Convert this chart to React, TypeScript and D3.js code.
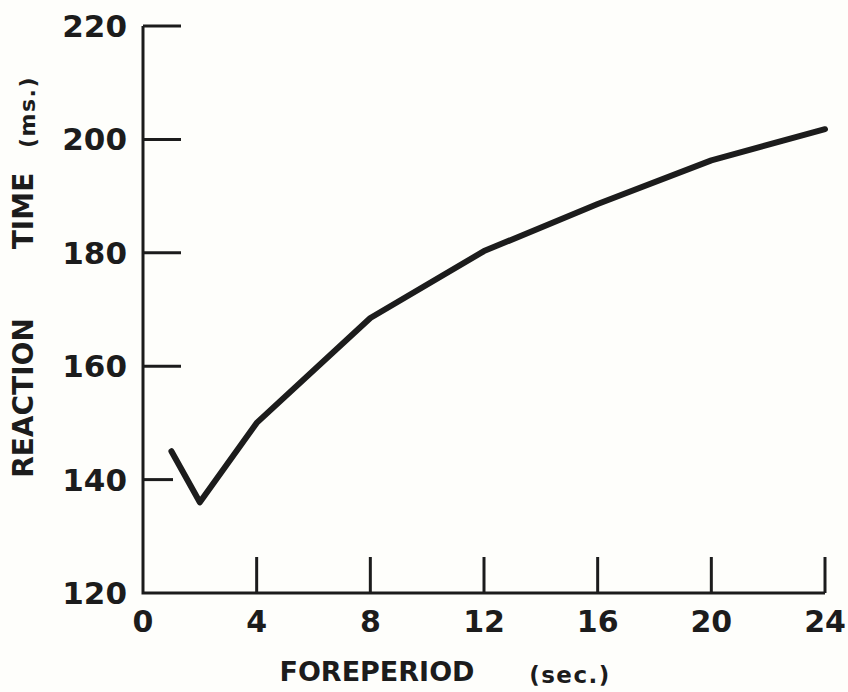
import React from "react";
import * as d3 from "d3";

const foreperiod = [1, 2, 4, 8, 12, 16, 20, 24];
const reactionTime = [145, 136, 150, 168.5, 180.3, 188.6, 196.3, 201.8];
const xTicks = [0, 4, 8, 12, 16, 20, 24];
const yTicks = [120, 140, 160, 180, 200, 220];

const W = 848;
const H = 692;
const INK = "#1c1c1c";
const FONT = "'DejaVu Sans', sans-serif";

export default function App() {
  const x = d3.scaleLinear().domain([0, 24]).range([143, 825]);
  const y = d3.scaleLinear().domain([120, 220]).range([593, 26]);
  const line = d3
    .line<number>()
    .x((_, i) => x(foreperiod[i]))
    .y((d) => y(d));
  const tickLen = (v: number) => (v === 140 ? 30 : 38);

  return (
    <svg
      width={W}
      height={H}
      style={{ position: "absolute", left: 0, top: 0, background: "#fefefb" }}
    >
      {/* axes */}
      <path
        d={`M${x(0)},${y(220)}V${y(120)}H${x(24)}`}
        fill="none"
        stroke={INK}
        strokeWidth={3}
      />
      {yTicks.map((v) => (
        <g key={"y" + v}>
          {v !== 120 && (
            <line
              x1={x(0)}
              x2={x(0) + tickLen(v)}
              y1={y(v)}
              y2={y(v)}
              stroke={INK}
              strokeWidth={3}
            />
          )}
          <text
            x={127}
            y={y(v) + 11}
            textAnchor="end"
            fontFamily={FONT}
            fontWeight="bold"
            fontSize={31}
            fill={INK}
          >
            {v}
          </text>
        </g>
      ))}
      {xTicks.map((v) => (
        <g key={"x" + v}>
          {v !== 0 && (
            <line
              x1={x(v)}
              x2={x(v)}
              y1={y(120)}
              y2={y(120) - 36}
              stroke={INK}
              strokeWidth={3}
            />
          )}
          <text
            x={x(v)}
            y={632}
            textAnchor="middle"
            fontFamily={FONT}
            fontWeight="bold"
            fontSize={30}
            fill={INK}
          >
            {v}
          </text>
        </g>
      ))}
      {/* data line */}
      <path
        d={line(reactionTime) || ""}
        fill="none"
        stroke={INK}
        strokeWidth={6}
        strokeLinecap="round"
        strokeLinejoin="round"
      />
      {/* x title */}
      <text
        x={377}
        y={681}
        textAnchor="middle"
        fontFamily={FONT}
        fontWeight="bold"
        fontSize={27}
        fill={INK}
      >
        FOREPERIOD
      </text>
      <text
        x={570}
        y={683}
        textAnchor="middle"
        fontFamily={FONT}
        fontWeight="bold"
        fontSize={23}
        letterSpacing={1.5}
        fill={INK}
      >
        (sec.)
      </text>
      {/* y title */}
      <g transform="translate(33,0) rotate(-90)">
        <text
          x={-398}
          y={0}
          textAnchor="middle"
          fontFamily={FONT}
          fontWeight="bold"
          fontSize={28}
          fill={INK}
        >
          REACTION
        </text>
        <text
          x={-211}
          y={0}
          textAnchor="middle"
          fontFamily={FONT}
          fontWeight="bold"
          fontSize={28}
          fill={INK}
        >
          TIME
        </text>
        <text
          x={-112}
          y={2}
          textAnchor="middle"
          fontFamily={FONT}
          fontWeight="bold"
          fontSize={22}
          letterSpacing={1.5}
          fill={INK}
        >
          (ms.)
        </text>
      </g>
    </svg>
  );
}
